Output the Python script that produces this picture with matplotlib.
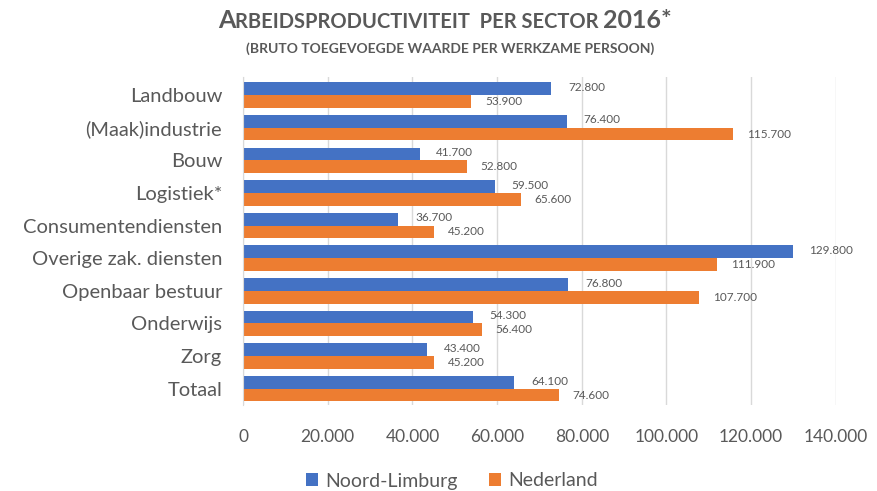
import numpy as np
import matplotlib
matplotlib.use('Agg')
import matplotlib.pyplot as plt
from matplotlib.ticker import FuncFormatter

plt.rcParams['font.family'] = ['Lato', 'DejaVu Sans']

sectors = ['Landbouw', '(Maak)industrie', 'Bouw', 'Logistiek*', 'Consumentendiensten',
           'Overige zak. diensten', 'Openbaar bestuur', 'Onderwijs', 'Zorg', 'Totaal']
limburg = [72800, 76400, 41700, 59500, 36700, 129800, 76800, 54300, 43400, 64100]
nederland = [53900, 115700, 52800, 65600, 45200, 111900, 107700, 56400, 45200, 74600]
xticks = [0, 20000, 40000, 60000, 80000, 100000, 120000, 140000]

blue = '#4472C4'
orange = '#ED7D31'
grey = '#595959'

def nl_fmt(v):
    return '{:,.0f}'.format(v).replace(',', '.')

fig = plt.figure(figsize=(8.78, 4.91), dpi=100)
ax = fig.add_axes([0.2768, 0.175, 0.952 - 0.2768, 0.668])

y = np.arange(len(sectors))
h = 0.39
ax.barh(y - h / 2, limburg, height=h, color=blue, label='Noord-Limburg', zorder=2)
ax.barh(y + h / 2, nederland, height=h, color=orange, label='Nederland', zorder=2)

for i in range(len(sectors)):
    ax.annotate(nl_fmt(limburg[i]), (limburg[i], y[i] - h / 2), xytext=(12, 1),
                textcoords='offset points', va='center', ha='left', fontsize=8.5, color=grey)
    ax.annotate(nl_fmt(nederland[i]), (nederland[i], y[i] + h / 2), xytext=(10, 0),
                textcoords='offset points', va='center', ha='left', fontsize=8.5, color=grey)

ax.set_xlim(0, 140000)
ax.set_ylim(len(sectors) - 0.5, -0.55)
ax.set_xticks(xticks)
ax.xaxis.set_major_formatter(FuncFormatter(lambda v, p: nl_fmt(v)))
ax.set_yticks(y)
ax.set_yticklabels(sectors)
ax.tick_params(axis='x', length=0, pad=17, labelsize=12.5, labelcolor=grey)
ax.tick_params(axis='y', length=0, pad=15, labelsize=14.5, labelcolor=grey)
ax.grid(axis='x', color='#D9D9D9', linewidth=1, zorder=0)
for s in ['top', 'right', 'bottom']:
    ax.spines[s].set_visible(False)
ax.spines['left'].set_color('#D9D9D9')

# title in small caps style, drawn piece by piece
renderer = fig.canvas.get_renderer()
parts = [('A', 18), ('RBEIDSPRODUCTIVITEIT  PER SECTOR ', 14.5), ('2016*', 18)]
objs = []
total = 0
for txt, sz in parts:
    t = fig.text(0, 0, txt, fontsize=sz, fontweight='bold', color=grey, ha='left', va='baseline')
    w = t.get_window_extent(renderer).width
    objs.append((t, w))
    total += w
x0 = 445 - total / 2
for t, w in objs:
    t.set_position((x0 / 878, 1 - 28 / 491))
    x0 += w
fig.text(450 / 878, 1 - 49 / 491, '(BRUTO TOEGEVOEGDE WAARDE PER WERKZAME PERSOON)',
         fontsize=10, fontweight='bold', color=grey, ha='center', va='center')

ax.legend(loc='center', bbox_to_anchor=(452 / 878, 1 - 481 / 491), bbox_transform=fig.transFigure,
          ncol=2, frameon=False, fontsize=14, labelcolor=grey, handlelength=0.6, handleheight=0.6,
          columnspacing=1.6, handletextpad=0.4)

fig.savefig('out.png', dpi=100)
